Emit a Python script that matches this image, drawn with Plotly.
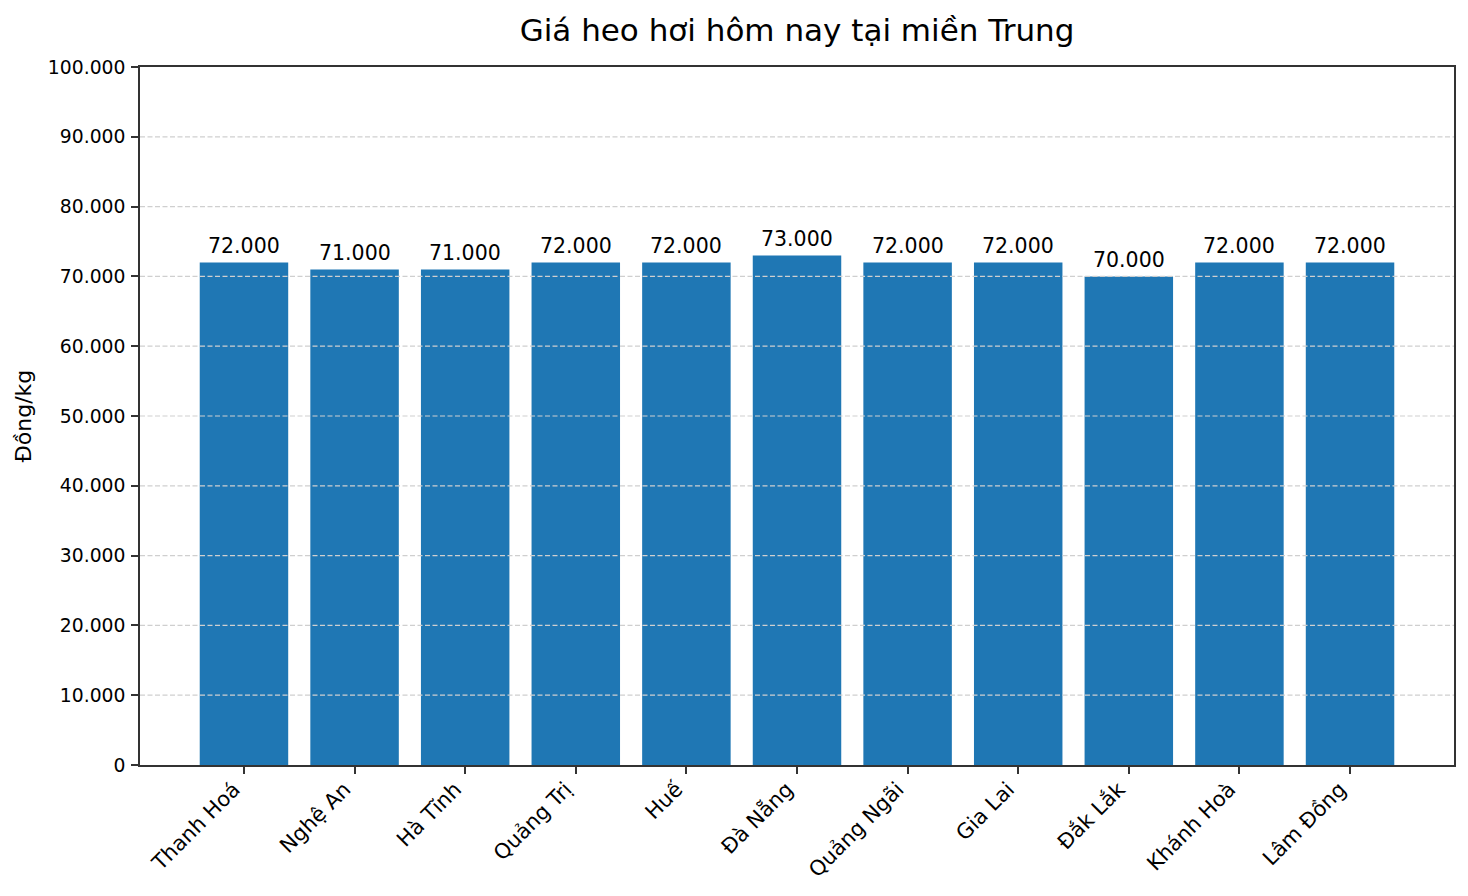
import plotly.graph_objects as go

categories = ["Thanh Hoá", "Nghệ An", "Hà Tĩnh", "Quảng Trị", "Huế", "Đà Nẵng",
              "Quảng Ngãi", "Gia Lai", "Đắk Lắk", "Khánh Hoà", "Lâm Đồng"]
prices = [72000, 71000, 71000, 72000, 72000, 73000, 72000, 72000, 70000, 72000, 72000]
y_ticks = [0, 10000, 20000, 30000, 40000, 50000, 60000, 70000, 80000, 90000, 100000]
y_tick_labels = ["0", "10.000", "20.000", "30.000", "40.000", "50.000",
                 "60.000", "70.000", "80.000", "90.000", "100.000"]

def fmt(v):
    return f"{v:,}".replace(",", ".")

FONT = "DejaVu Sans"
W, H = 1460, 888  # page body has an 8px margin

fig = go.Figure()
fig.add_trace(go.Bar(
    x=categories, y=prices,
    marker=dict(color="#1f77b4", line=dict(width=0)),
    hoverinfo="x+y",
))

for c, v in zip(categories, prices):
    fig.add_annotation(x=c, y=v, text=fmt(v), showarrow=False,
                       yanchor="bottom", yshift=2,
                       font=dict(family=FONT, size=20.5, color="black"))

for t in y_ticks[1:-1]:
    fig.add_shape(type="line", xref="paper", x0=0, x1=1, yref="y", y0=t, y1=t,
                  line=dict(color="#cfcfcf", width=1.2, dash="5px,2.5px"),
                  layer="above")

fig.update_layout(
    width=W, height=H, autosize=False,
    margin=dict(l=132, r=12, t=59, b=131),
    paper_bgcolor="white", plot_bgcolor="white",
    bargap=0.2,
    showlegend=False,
    font=dict(family=FONT, color="black"),
    title=dict(text="Giá heo hơi hôm nay tại miền Trung",
               x=0.5, xref="paper", xanchor="center",
               y=1 - 22 / H, yref="container", yanchor="middle",
               font=dict(family=FONT, size=31, color="black")),
)
fig.update_xaxes(
    range=[-0.94, len(categories) - 1 + 0.94],
    tickangle=-45,
    tickfont=dict(family=FONT, size=21, color="black"),
    ticks="outside", ticklen=7, tickwidth=1.5, tickcolor="#333333",
    ticklabelshift=-10, ticklabelstandoff=-5,
    showline=True, linecolor="#333333", linewidth=1.5, mirror=True,
    showgrid=False, zeroline=False,
)
fig.update_yaxes(
    range=[0, 100000],
    tickvals=y_ticks, ticktext=y_tick_labels,
    tickfont=dict(family=FONT, size=18.8, color="black"),
    ticks="outside", ticklen=7, tickwidth=1.5, tickcolor="#333333",
    ticklabelstandoff=2,
    showline=True, linecolor="#333333", linewidth=1.5, mirror=True,
    showgrid=False, zeroline=False,
    title=dict(text="Đồng/kg", standoff=10,
               font=dict(family=FONT, size=22, color="black")),
)

fig.write_html("out.html")
